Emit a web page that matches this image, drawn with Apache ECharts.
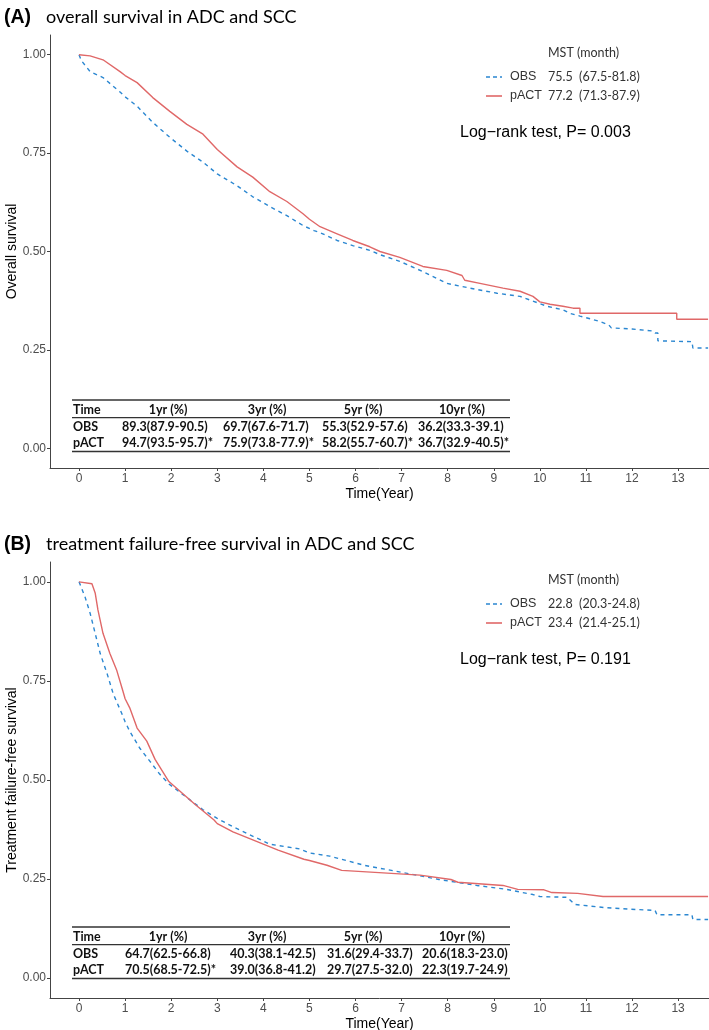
<!DOCTYPE html>
<html><head><meta charset="utf-8">
<script src="https://cdn.jsdelivr.net/npm/echarts@6/dist/echarts.min.js"></script>
<style>html,body{margin:0;padding:0;background:#fff}#c{width:709px;height:1030px}</style>
</head><body><div id="c"></div>
<script>
// ---------- DATA ----------
const groups = ['OBS', 'pACT'];
const xTicks = [0,1,2,3,4,5,6,7,8,9,10,11,12,13];
const yTicks = [0, 0.25, 0.5, 0.75, 1];

// (A) overall survival
const osObsT = [0,0.05,0.24,0.52,0.89,1.0,1.26,1.6,1.97,2.34,2.69,3.0,3.43,3.77,4.14,4.51,4.86,5.1,5.23,5.6,5.94,6.31,6.53,6.96,7.46,7.98,8.48,9.07,9.57,9.85,10.15,10.5,10.65,10.87,11.28,11.5,11.55,12.0,12.45,12.5,12.56,12.56,13.3,13.32,13.65];
const osObsS = [1.0,0.985,0.957,0.942,0.905,0.893,0.869,0.828,0.79,0.755,0.727,0.697,0.667,0.639,0.614,0.591,0.566,0.553,0.548,0.528,0.515,0.503,0.492,0.475,0.449,0.419,0.407,0.394,0.386,0.374,0.361,0.352,0.343,0.336,0.323,0.313,0.306,0.303,0.298,0.293,0.293,0.273,0.271,0.255,0.255];
const osActT = [0,0.24,0.52,0.89,1.0,1.26,1.6,1.97,2.34,2.69,3.0,3.43,3.77,4.14,4.51,4.86,5.0,5.23,5.6,5.94,6.31,6.53,6.96,7.46,7.98,8.31,8.37,8.7,9.2,9.57,9.85,10.0,10.22,10.5,10.72,10.87,10.87,12.97,12.97,13.65];
const osActS = [1.0,0.997,0.987,0.957,0.947,0.929,0.891,0.856,0.823,0.798,0.759,0.715,0.689,0.652,0.627,0.596,0.582,0.563,0.545,0.528,0.512,0.5,0.485,0.462,0.452,0.439,0.427,0.419,0.407,0.399,0.386,0.372,0.366,0.361,0.356,0.356,0.343,0.343,0.328,0.328];

// (B) treatment failure-free survival
const tfObsT = [0,0.13,0.24,0.35,0.46,0.61,0.74,0.93,1.0,1.1,1.32,1.54,1.75,1.95,2.69,3.0,3.34,4.14,4.79,5.0,5.44,6.18,7.0,7.81,8.63,9.28,9.85,10.0,10.59,10.76,11.41,12.13,12.5,12.54,13.3,13.32,13.65];
const tfObsS = [1.0,0.962,0.921,0.87,0.819,0.768,0.718,0.667,0.647,0.623,0.58,0.547,0.515,0.49,0.425,0.403,0.382,0.338,0.326,0.316,0.308,0.285,0.267,0.249,0.234,0.224,0.211,0.206,0.204,0.186,0.178,0.173,0.171,0.16,0.16,0.148,0.148];
const tfActT = [0,0.28,0.35,0.41,0.52,0.67,0.82,0.95,1.0,1.1,1.26,1.47,1.65,1.95,2.52,2.93,3.0,3.34,3.73,4.32,4.88,5.0,5.38,5.7,6.42,7.4,8.07,8.22,9.2,9.52,10.09,10.26,10.82,11.37,13.65];
const tfActS = [1.0,0.995,0.972,0.929,0.87,0.819,0.776,0.725,0.705,0.682,0.631,0.598,0.552,0.496,0.438,0.399,0.39,0.369,0.351,0.323,0.3,0.297,0.285,0.272,0.267,0.26,0.249,0.242,0.234,0.224,0.223,0.216,0.214,0.206,0.206];

// texts
const titlesTag = ['(A)', '(B)'];
const titles = ['overall survival in ADC and SCC', 'treatment failure-free survival in ADC and SCC'];
const yNames = ['Overall survival', 'Treatment failure-free survival'];
const xName = 'Time(Year)';
const mstHeader = 'MST (month)';
const mstA = ['75.5  (67.5-81.8)', '77.2  (71.3-87.9)'];
const mstB = ['22.8  (20.3-24.8)', '23.4  (21.4-25.1)'];
const pTexts = ['Log\u2212rank test, P= 0.003', 'Log\u2212rank test, P= 0.191'];
const tableCols = ['Time', '1yr (%)', '3yr (%)', '5yr (%)', '10yr (%)'];
const tabA_OBS = ['89.3(87.9-90.5)', '69.7(67.6-71.7)', '55.3(52.9-57.6)', '36.2(33.3-39.1)'];
const tabA_ACT = ['94.7(93.5-95.7)*', '75.9(73.8-77.9)*', '58.2(55.7-60.7)*', '36.7(32.9-40.5)*'];
const tabB_OBS = ['64.7(62.5-66.8)', '40.3(38.1-42.5)', '31.6(29.4-33.7)', '20.6(18.3-23.0)'];
const tabB_ACT = ['70.5(68.5-72.5)*', '39.0(36.8-41.2)', '29.7(27.5-32.0)', '22.3(19.7-24.9)'];

// ---------- STYLE ----------
const BLUE = '#2b87d1', RED = '#e06868';
const AX = '#444', TXT = '#4d4d4d';
const SANS = '"Liberation Sans", Arial, sans-serif';
const HUM = 'Lato, "Open Sans", sans-serif';

function pairs(t, s) { return t.map((v, i) => [v, s[i]]); }

const chart = echarts.init(document.getElementById('c'), null, {renderer: 'canvas'});

const grids = [
  {left: 50, top: 35, width: 659, height: 433, outerBoundsMode: 'none', containLabel: false},
  {left: 50, top: 562, width: 659, height: 436, outerBoundsMode: 'none', containLabel: false}
];

function xAx(i) {
  return {
    gridIndex: i, type: 'value', min: -0.63, max: 13.67,
    name: xName, nameLocation: 'middle', nameGap: 19, nameMoveOverlap: false,
    nameTextStyle: {fontFamily: SANS, fontSize: 14, color: '#000', verticalAlign: 'top'},
    axisLine: {onZero: false, lineStyle: {color: AX, width: 1}},
    axisTick: {customValues: xTicks, length: 3, lineStyle: {color: AX}},
    axisLabel: {customValues: xTicks, fontFamily: SANS, fontSize: 12, color: TXT, margin: 5},
    splitLine: {show: false}
  };
}
function yAx(i) {
  return {
    gridIndex: i, type: 'value', min: -0.05, max: 1.05,
    name: yNames[i], nameLocation: 'middle', nameGap: 31, nameMoveOverlap: false,
    nameTextStyle: {fontFamily: SANS, fontSize: 14, color: '#000'},
    axisLine: {show: true, onZero: false, lineStyle: {color: AX, width: 1}},
    axisTick: {show: true, customValues: yTicks, length: 3, lineStyle: {color: AX}},
    axisLabel: {customValues: yTicks, fontFamily: SANS, fontSize: 12, color: TXT, margin: 4,
      formatter: v => v.toFixed(2)},
    splitLine: {show: false}
  };
}
function ser(i, t, s, color, dashed) {
  return {
    type: 'line', xAxisIndex: i, yAxisIndex: i, data: pairs(t, s),
    symbol: 'none', showSymbol: false, animation: false, silent: true,
    lineStyle: {color: color, width: 1.4, type: dashed ? [4, 4] : 'solid'}
  };
}

// ---------- GRAPHIC (titles, legends, tables) ----------
const g = [];
function txt(x, y, text, font, size, weight, color, align) {
  g.push({type: 'text', x: x, y: y, silent: true, style: {
    text: text, fontFamily: font, fontSize: size, fontWeight: weight || 'normal',
    fill: color || '#000', textAlign: align || 'left', textVerticalAlign: 'middle'}});
}
function hline(x1, x2, y, w, color, dash) {
  g.push({type: 'line', silent: true, shape: {x1: x1, y1: y, x2: x2, y2: y},
    style: {stroke: color, lineWidth: w, lineDash: dash || null}});
}
function panel(oy, k, mst) {
  txt(4, oy + 18, titlesTag[k], SANS, 19.5, 'bold');
  txt(46, oy + 17, titles[k], HUM, 18);
  txt(548, oy + 53, mstHeader, HUM, 12.5, 'normal', '#333');
  hline(486, 502, oy + 77, 1.6, BLUE, [4, 3]);
  hline(486, 502, oy + 96, 1.6, RED);
  txt(510, oy + 77, groups[0], SANS, 12.5, 'normal', '#333');
  txt(510, oy + 96, groups[1], SANS, 12.5, 'normal', '#333');
  txt(548, oy + 77, mst[0], HUM, 12.5, 'normal', '#333');
  txt(548, oy + 96, mst[1], HUM, 12.5, 'normal', '#333');
  txt(460, oy + 133, pTexts[k], SANS, 16, 'normal', '#000');
}
function table(top, obsRow, actRow, valX) {
  const hx = [168, 267, 363, 462];
  const FS = 12.5;
  hline(72, 510, top, 1.3, '#333');
  hline(72, 510, top + 17.7, 1.3, '#333');
  hline(72, 510, top + 51.5, 1.3, '#333');
  txt(73, top + 9.5, tableCols[0], HUM, FS, 'bold', '#111');
  for (let i = 0; i < 4; i++) txt(hx[i], top + 9.5, tableCols[i + 1], HUM, FS, 'bold', '#111', 'center');
  txt(73, top + 26.7, groups[0], HUM, FS, 'bold', '#111');
  txt(73, top + 43, groups[1], HUM, FS, 'bold', '#111');
  for (let i = 0; i < 4; i++) {
    txt(valX[i], top + 26.7, obsRow[i], HUM, FS, 'bold', '#111');
    txt(valX[i], top + 43, actRow[i], HUM, FS, 'bold', '#111');
  }
}
panel(0, 0, mstA);
panel(527, 1, mstB);
table(400, tabA_OBS, tabA_ACT, [122, 223, 322, 418]);
table(927, tabB_OBS, tabB_ACT, [125, 230, 327, 422]);

chart.setOption({
  animation: false,
  backgroundColor: '#fff',
  grid: grids,
  xAxis: [xAx(0), xAx(1)],
  yAxis: [yAx(0), yAx(1)],
  series: [
    ser(0, osObsT, osObsS, BLUE, true),
    ser(0, osActT, osActS, RED, false),
    ser(1, tfObsT, tfObsS, BLUE, true),
    ser(1, tfActT, tfActS, RED, false)
  ],
  graphic: g
});
</script></body></html>
